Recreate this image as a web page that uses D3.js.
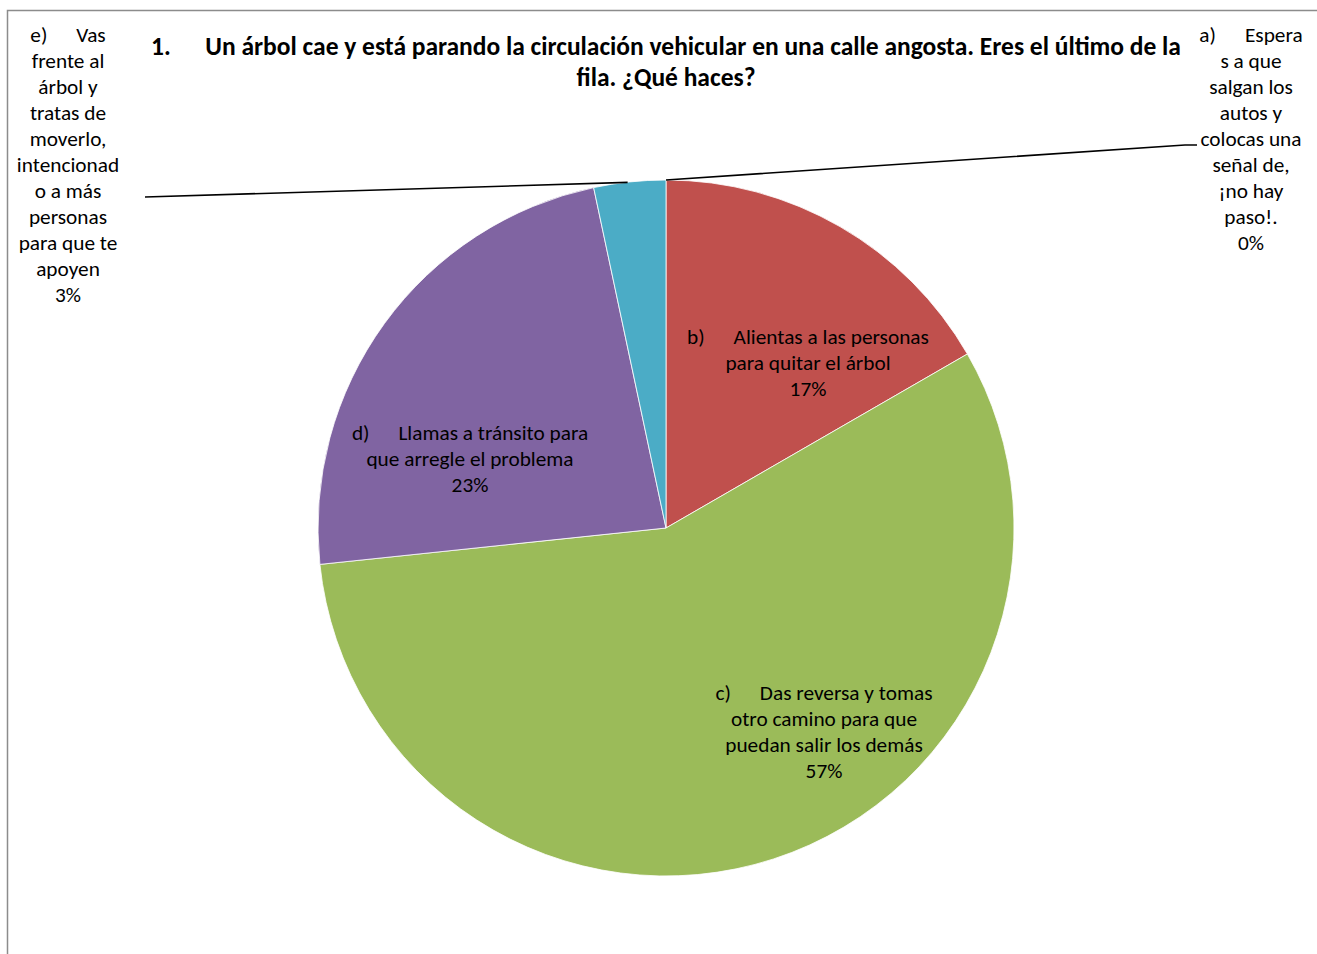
<!DOCTYPE html>
<html><head><meta charset="utf-8">
<script src="https://cdn.jsdelivr.net/npm/d3@7/dist/d3.min.js"></script>
<style>
html,body{margin:0;padding:0;background:#fff;}
svg text{font-family:Carlito,Calibri,Lato,"Open Sans",sans-serif;white-space:pre;}
</style></head>
<body>
<script>
// ---- data ----
const categories = ["a", "b", "c", "d", "e"];
const counts = [0, 5, 17, 7, 1];
const percentLabels = ["0%", "17%", "57%", "23%", "3%"];
const categoryText = [
  ["a)      Espera", "s a que", "salgan los", "autos y", "colocas una", "señal de,", "¡no hay", "paso!."],
  ["b)      Alientas a las personas", "para quitar el árbol"],
  ["c)      Das reversa y tomas", "otro camino para que", "puedan salir los demás"],
  ["d)      Llamas a tránsito para", "que arregle el problema"],
  ["e)      Vas", "frente al", "árbol y", "tratas de", "moverlo,", "intencionad", "o a más", "personas", "para que te", "apoyen"]
];
const titleLines = ["1.      Un árbol cae y está parando la circulación vehicular en una calle angosta. Eres el último de la", "fila. ¿Qué haces?"];
const colors = ["#4F81BD", "#C0504D", "#9BBB59", "#8064A2", "#4BACC6"];

// ---- layout ----
const W = 1317, H = 954;
const cx = 666, cy = 528, R = 348;
const labelPos = [[1251, 35], [808, 337], [824, 693], [470, 433], [68, 35]];
const lineH = 26;

const svg = d3.select("body").append("svg").attr("width", W).attr("height", H);

// frame
svg.append("rect").attr("x", 7.5).attr("y", 10.5).attr("width", W + 20).attr("height", H + 20)
  .attr("fill", "#fff").attr("stroke", "#8c8c8c").attr("stroke-width", 1.5);

// title
const title = svg.append("text").attr("x", cx).attr("y", 55).attr("text-anchor", "middle")
  .attr("font-weight", "bold").attr("font-size", 25.5).attr("fill", "#000");
titleLines.forEach((t, i) => title.append("tspan").attr("x", cx).attr("y", 55 + i * 31).text(t));

// pie
const pie = d3.pie().sort(null).value(d => d);
const arcs = pie(counts);
const arc = d3.arc().innerRadius(0).outerRadius(R);
const g = svg.append("g").attr("transform", `translate(${cx},${cy})`);
g.selectAll("path").data(arcs).join("path")
  .attr("d", arc).attr("fill", (d, i) => colors[i])
  .attr("stroke", "#fff").attr("stroke-width", 0.8);

// leader lines for outside labels (a and e)
function edgePoint(d) {
  const a = (d.startAngle + d.endAngle) / 2;
  return [cx + R * Math.sin(a), cy - R * Math.cos(a)];
}
const pa = edgePoint(arcs[0]);
svg.append("polyline").attr("points", `${pa[0]},${pa[1]} 1185,145 1197,145`)
  .attr("fill", "none").attr("stroke", "#000").attr("stroke-width", 1.6);
const pe = edgePoint(arcs[4]);
svg.append("polyline").attr("points", `145,197 ${pe[0] - 2},${pe[1] + 0.5}`)
  .attr("fill", "none").attr("stroke", "#000").attr("stroke-width", 1.6);

// labels
categoryText.forEach((lines, i) => {
  const [x, y] = labelPos[i];
  const t = svg.append("text").attr("text-anchor", "middle").attr("font-size", 21.3).attr("fill", "#000");
  const all = lines.concat([percentLabels[i]]);
  all.forEach((l, j) => t.append("tspan").attr("x", x).attr("y", y + j * lineH).attr("dy", "0.35em").text(l));
});
</script>
</body></html>
